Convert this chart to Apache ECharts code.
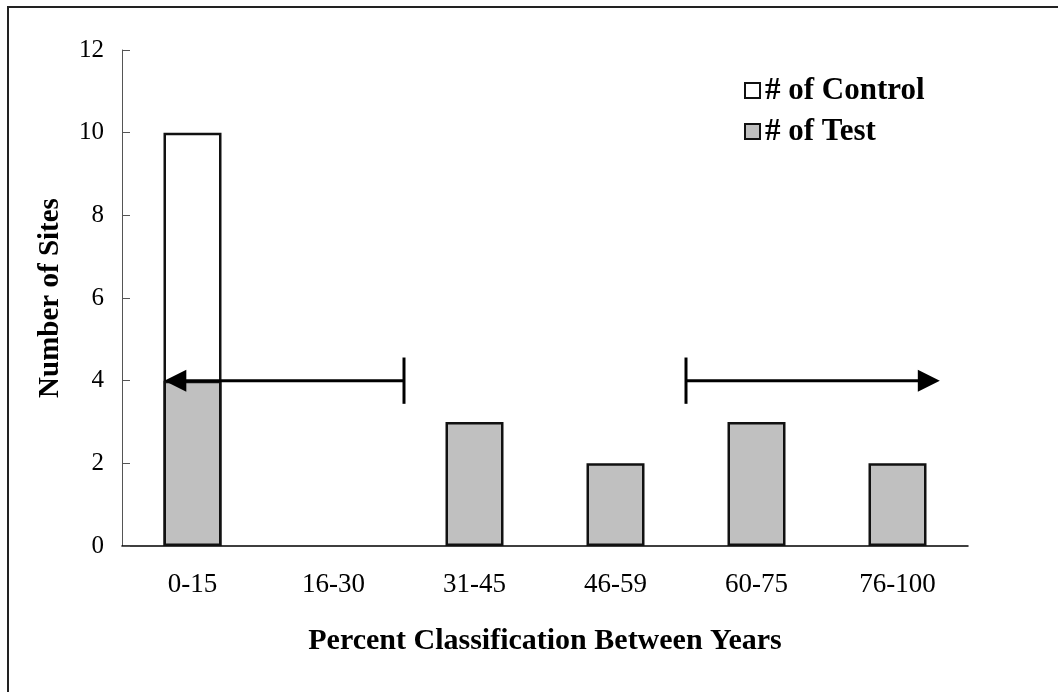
<!DOCTYPE html>
<html>
<head>
<meta charset="utf-8">
<script src="https://cdn.jsdelivr.net/npm/echarts@6/dist/echarts.min.js"></script>
<style>
html,body{margin:0;padding:0;background:#fff;}
#chart{width:1058px;height:692px;}
</style>
</head>
<body>
<div id="chart"></div>
<script>
const categories = ['0-15', '16-30', '31-45', '46-59', '60-75', '76-100'];
const controlCounts = [10, null, null, null, null, null];
const testCounts = [4, null, 3, 2, 3, 2];
const yTicks = { min: 0, max: 12, step: 2 };
// arrows: [start x (category index units), tip x, y value, end-tick half height]
const arrowSpans = [
  [1.5, -0.2, 4, 0.56],
  [3.5, 5.3, 4, 0.56]
];

const FONT = "'Liberation Serif', 'Times New Roman', serif";
const chart = echarts.init(document.getElementById('chart'));

chart.setOption({
  animation: false,
  backgroundColor: '#fff',
  graphic: [{
    type: 'rect',
    shape: { x: 8, y: 7, width: 1200, height: 900 },
    style: { fill: 'none', stroke: '#222', lineWidth: 2 },
    silent: true
  }],
  grid: { left: 122, right: 90, top: 50, bottom: 146 },
  legend: {
    orient: 'vertical',
    left: 739,
    top: 70,
    itemWidth: 15,
    itemHeight: 15,
    itemGap: 10,
    icon: 'rect',
    textStyle: { fontFamily: FONT, fontWeight: 'bold', fontSize: 31, color: '#000', lineHeight: 30 },
    data: ['# of Control', '# of Test']
  },
  xAxis: [{
    type: 'category',
    data: categories,
    name: 'Percent Classification Between Years',
    nameLocation: 'middle',
    nameGap: 80,
    nameTextStyle: { fontFamily: FONT, fontWeight: 'bold', fontSize: 30, color: '#000' },
    axisLine: { lineStyle: { color: '#000', width: 1.5 } },
    axisTick: { inside: true, length: 8, lineStyle: { color: '#000', width: 1 } },
    axisLabel: { fontFamily: FONT, fontSize: 27, color: '#000', margin: 25 },
    splitLine: { show: false }
  }, {
    type: 'value',
    min: -0.5,
    max: 5.5,
    show: false
  }],
  yAxis: {
    type: 'value',
    min: yTicks.min,
    max: yTicks.max,
    interval: yTicks.step,
    name: 'Number of Sites',
    nameLocation: 'middle',
    nameGap: 57,
    nameTextStyle: { fontFamily: FONT, fontWeight: 'bold', fontSize: 29, color: '#000' },
    axisLine: { show: true, onZero: false, lineStyle: { color: '#555', width: 1 } },
    axisTick: { show: true, inside: true, length: 8, lineStyle: { color: '#555', width: 1 } },
    axisLabel: { fontFamily: FONT, fontSize: 25, color: '#000', margin: 18 },
    splitLine: { show: false }
  },
  series: [{
    name: '# of Control',
    type: 'bar',
    data: controlCounts,
    barWidth: 58,
    barGap: '-100%',
    itemStyle: { color: '#fff', borderColor: '#111', borderWidth: 2.5 }
  }, {
    name: '# of Test',
    type: 'bar',
    data: testCounts,
    barWidth: 58,
    barGap: '-100%',
    itemStyle: { color: '#c0c0c0', borderColor: '#111', borderWidth: 2.5 }
  }, {
    type: 'custom',
    xAxisIndex: 1,
    yAxisIndex: 0,
    silent: true,
    z: 10,
    clip: false,
    data: arrowSpans,
    renderItem: function (params, api) {
      const x0 = api.value(0), x1 = api.value(1), y = api.value(2), h = api.value(3);
      const p0 = api.coord([x0, y]);
      const p1 = api.coord([x1, y]);
      const tTop = api.coord([x0, y + h]);
      const tBot = api.coord([x0, y - h]);
      const dir = p1[0] > p0[0] ? 1 : -1;
      const headLen = 22, headHalf = 11;
      const baseX = p1[0] - dir * headLen;
      return {
        type: 'group',
        children: [{
          type: 'line',
          shape: { x1: p0[0], y1: p0[1], x2: baseX + dir * 2, y2: p1[1] },
          style: { stroke: '#000', lineWidth: 3 }
        }, {
          type: 'line',
          shape: { x1: tTop[0], y1: tTop[1], x2: tBot[0], y2: tBot[1] },
          style: { stroke: '#000', lineWidth: 3 }
        }, {
          type: 'polygon',
          shape: { points: [[p1[0], p1[1]], [baseX, p1[1] - headHalf], [baseX, p1[1] + headHalf]] },
          style: { fill: '#000' }
        }]
      };
    }
  }]
});
</script>
</body>
</html>
